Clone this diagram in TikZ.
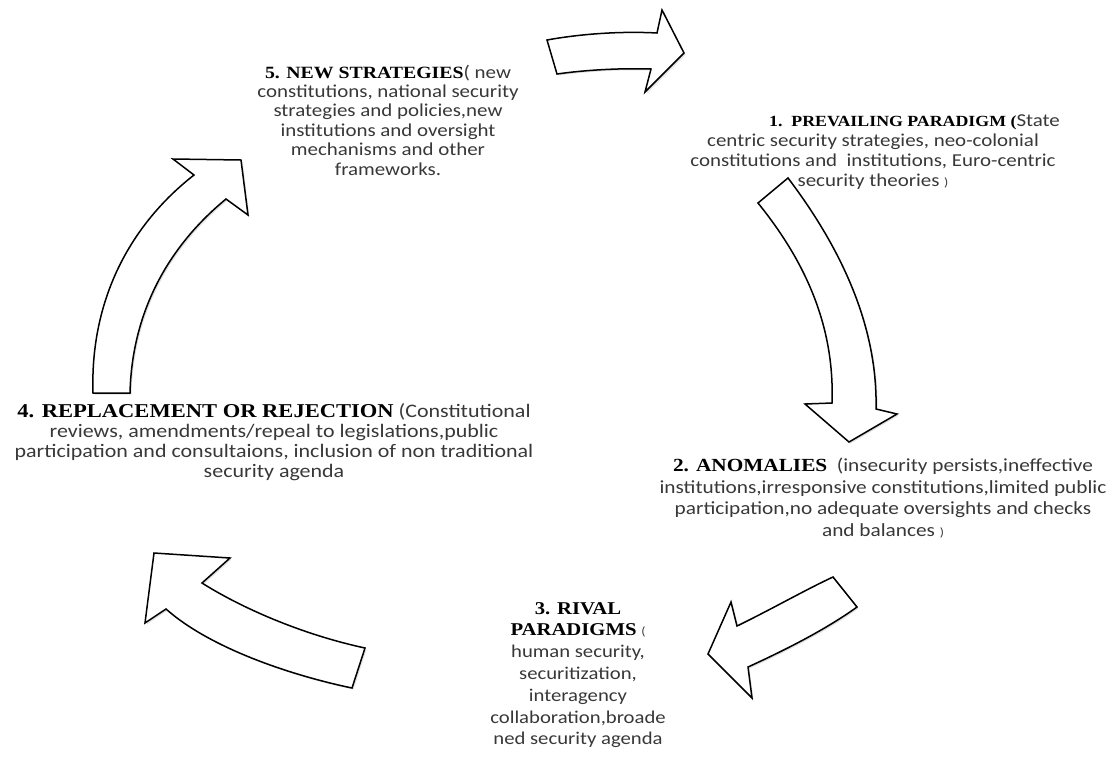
\documentclass[tikz,border=0pt]{standalone}
\usepackage{fontspec}
\setmainfont{Carlito}[FakeStretch=1.15]
\newfontfamily\headfont{Liberation Serif}[FakeStretch=1.15]
\usetikzlibrary{shadows}
\newcommand{\hd}[1]{{\headfont\bfseries\color{black}#1}}
\newcommand{\hdsz}[2]{{\fontsize{#1}{#1}\headfont\bfseries\color{black}#2}}
\newcommand{\smallparen}[1]{{\fontsize{12}{12}\selectfont #1}}

\begin{document}
\begin{tikzpicture}[x=1pt,y=-1pt,
  blockarrow/.style={draw=black, line width=1.5pt, line join=miter, fill=white,
    drop shadow={opacity=0.25, shadow xshift=1.5pt, shadow yshift=-1.5pt}},
  stage/.style={align=center, text=black!78, inner sep=0pt},
]
\useasboundingbox (0,0) rectangle (1113,756);

% ---- curved block arrows around the cycle ----
% 5 -> 1 (top)
\path[blockarrow] (547,40) .. controls (580,34) and (620,31) .. (657,33)
  -- (662,10) -- (684,53) -- (645,92) -- (651,69)
  .. controls (620,68) and (585,70) .. (557,74) -- cycle;
% 1 -> 2 (right)
\path[blockarrow] (788,178) .. controls (835,240) and (878,320) .. (876,409)
  -- (897,414) -- (849,442) -- (805,404) -- (832,403)
  .. controls (835,320) and (800,255) .. (758,203) -- cycle;
% 2 -> 3 (lower right)
\path[blockarrow] (833,577) -- (857,607)
  .. controls (825,630) and (785,650) .. (748,667)
  -- (752,698) -- (708,654) -- (731,602) -- (737,626)
  .. controls (770,610) and (805,590) .. (833,577) -- cycle;
% 3 -> 4 (lower left)
\path[blockarrow] (365,648) -- (352,688)
  .. controls (290,675) and (210,648) .. (166,609)
  -- (145,623) -- (154,553) -- (230,558) -- (202,583)
  .. controls (240,607) and (300,634) .. (365,648) -- cycle;
% 4 -> 5 (left)
\path[blockarrow] (93,393) .. controls (90,300) and (130,225) .. (194,175)
  -- (173,159) -- (241,160) -- (248,215) -- (226,199)
  .. controls (170,245) and (132,310) .. (130,393) -- cycle;

% ---- stage descriptions ----
\node[stage, font=\fontsize{18.2}{19.4}\selectfont] (s5) at (388,120)
  {\hdsz{17.2}{5. NEW STRATEGIES}( new\\
   constitutions, national security\\
   strategies and policies,new\\
   institutions and oversight\\
   mechanisms and other\\
   frameworks.};

\node[stage, font=\fontsize{18.2}{20}\selectfont] (s1) at (873,152)
  {\hspace*{83pt}\hdsz{15.5}{1.\ \ PREVAILING PARADIGM (}State\\
   centric security strategies, neo-colonial\\
   constitutions and\ \ institutions, Euro-centric\\
   security theories \smallparen{)}};

\node[stage, font=\fontsize{18.5}{21.7}\selectfont] (s2) at (883,498)
  {\hd{2. ANOMALIES}\ \ (insecurity persists,ineffective\\
   institutions,irresponsive constitutions,limited public\\
   participation,no adequate oversights and checks\\
   and balances \smallparen{)}};

\node[stage, font=\fontsize{18}{21.8}\selectfont] (s3) at (578,675)
  {\hd{3. RIVAL}\\
   \hd{PARADIGMS} \smallparen{(}\\
   human security,\\
   securitization,\\
   interagency\\
   collaboration,broade\\
   ned security agenda};

\node[stage, font=\fontsize{19.1}{19.8}\selectfont] (s4) at (274,442)
  {\hdsz{19.6}{4. REPLACEMENT OR REJECTION} (Constitutional\\
   reviews, amendments/repeal to legislations,public\\
   participation and consultaions, inclusion of non traditional\\
   security agenda};
\end{tikzpicture}
\end{document}
